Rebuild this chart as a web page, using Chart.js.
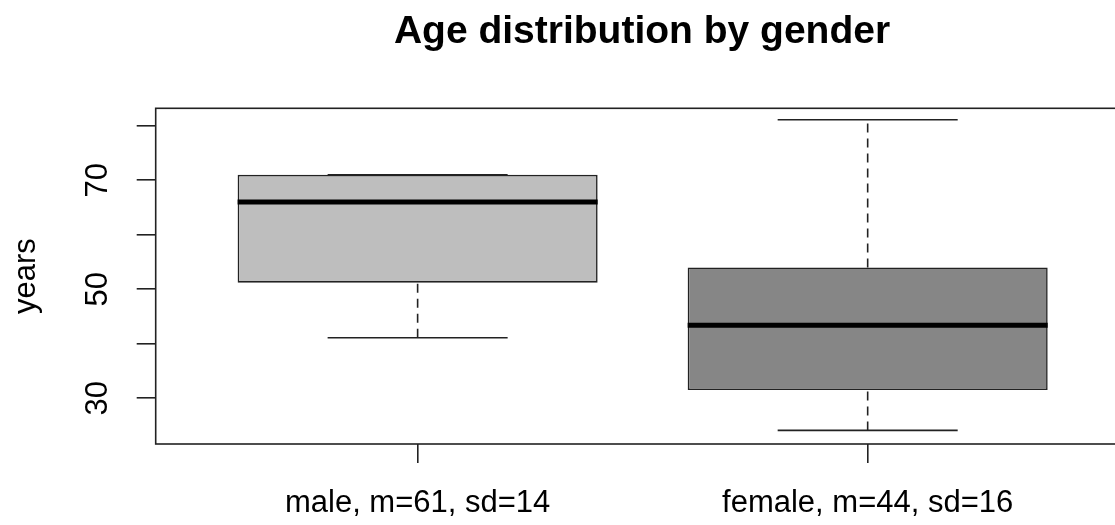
<!DOCTYPE html>
<html>
<head>
<meta charset="utf-8">
<script src="https://cdn.jsdelivr.net/npm/chart.js@4.4.1/dist/chart.umd.min.js"></script>
<style>
  html, body { margin: 0; padding: 0; background: #fff; overflow: hidden; }
  #wrap { width: 1284px; height: 525px; }
</style>
</head>
<body>
<div id="wrap"><canvas id="boxChart" width="1284" height="525"></canvas></div>
<script>
// Box plot data
const categories = ['male, m=61, sd=14', 'female, m=44, sd=16'];
const positions = [1, 2];
const whiskerLow = [41.1, 24.1];
const q1 = [51.2, 31.5];
const median = [66.0, 43.4];
const q3 = [71.0, 54.0];
const whiskerHigh = [71.0, 81.1];
const boxColors = ['#bebebe', '#868686'];

const yTicks = [30, 40, 50, 60, 70, 80];
const yTickLabels = ['30', '', '50', '', '70', ''];

const FONT = "'Liberation Sans', Arial, sans-serif";
const INK = '#222';

// segment helpers: null point breaks the line between segments
function segments(list) {
    const out = [];
    list.forEach(seg => {
        out.push(seg[0], seg[1], { x: seg[0].x, y: null });
    });
    return out;
}

const medianLines = segments(positions.map((p, i) => [
    { x: p - 0.4, y: median[i] }, { x: p + 0.4, y: median[i] }
]));

const whiskerCaps = segments(positions.flatMap((p, i) => [
    [{ x: p - 0.2, y: whiskerLow[i] }, { x: p + 0.2, y: whiskerLow[i] }],
    [{ x: p - 0.2, y: whiskerHigh[i] }, { x: p + 0.2, y: whiskerHigh[i] }]
]));

const whiskerStems = segments(positions.flatMap((p, i) => [
    [{ x: p, y: whiskerLow[i] }, { x: p, y: q1[i] }],
    [{ x: p, y: q3[i] }, { x: p, y: whiskerHigh[i] }]
]));

// frame around the plot region
const plotFrame = {
    id: 'plotFrame',
    afterDatasetsDraw(chart) {
        const a = chart.chartArea;
        const ctx = chart.ctx;
        ctx.save();
        ctx.strokeStyle = INK;
        ctx.lineWidth = 1.6;
        ctx.strokeRect(a.left, a.top, a.right - a.left, a.bottom - a.top);
        ctx.restore();
    }
};

const lineStyle = {
    type: 'line',
    borderColor: INK,
    pointRadius: 0,
    spanGaps: false,
    fill: false,
    tension: 0,
    borderCapStyle: 'butt'
};

new Chart(document.getElementById('boxChart'), {
    type: 'bar',
    data: {
        datasets: [
            {
                ...lineStyle,
                data: medianLines,
                borderColor: '#000',
                borderWidth: 5,
                order: 0
            },
            {
                ...lineStyle,
                data: whiskerCaps,
                borderWidth: 1.6,
                order: 1
            },
            {
                ...lineStyle,
                data: whiskerStems,
                borderWidth: 1.6,
                borderDash: [9, 6],
                order: 1
            },
            {
                type: 'bar',
                data: positions.map((p, i) => ({ x: p, y: [q1[i], q3[i]] })),
                backgroundColor: boxColors,
                borderColor: INK,
                borderWidth: 1.6,
                borderSkipped: false,
                barPercentage: 0.8,
                categoryPercentage: 1,
                order: 2
            }
        ]
    },
    options: {
        responsive: false,
        animation: false,
        devicePixelRatio: 1,
        layout: { padding: 0 },
        plugins: {
            legend: { display: false },
            tooltip: { enabled: false },
            title: {
                display: true,
                text: 'Age distribution by gender',
                color: '#000',
                font: { family: FONT, size: 39, weight: 'bold', lineHeight: 1.2 },
                padding: { top: 9, bottom: 52.5 }
            }
        },
        scales: {
            x: {
                type: 'linear',
                min: 0.418,
                max: 2.58,
                offset: false,
                afterBuildTicks: s => { s.ticks = positions.map(v => ({ value: v })); },
                afterFit: s => { s.height = 81; },
                grid: { offset: false, drawOnChartArea: false, drawTicks: true, tickLength: 19, color: INK, lineWidth: 1.6 },
                border: { display: false },
                ticks: {
                    color: '#000',
                    font: { family: FONT, size: 31 },
                    maxRotation: 0,
                    padding: 22,
                    callback: (v, i) => categories[i]
                }
            },
            y: {
                type: 'linear',
                min: 21.6,
                max: 83.2,
                afterBuildTicks: s => { s.ticks = yTicks.map(v => ({ value: v })); },
                afterFit: s => { s.width = 155.7; },
                grid: { drawOnChartArea: false, drawTicks: true, tickLength: 19, color: INK, lineWidth: 1.6 },
                border: { display: false },
                ticks: {
                    color: '#000',
                    font: { family: FONT, size: 31 },
                    minRotation: 90,
                    maxRotation: 90,
                    crossAlign: 'center',
                    padding: 21,
                    callback: (v, i) => yTickLabels[i]
                },
                title: {
                    display: true,
                    text: 'years',
                    color: '#000',
                    font: { family: FONT, size: 31, lineHeight: 1.2 },
                    padding: { top: 8, bottom: 0 }
                }
            },
            yRight: {
                type: 'linear',
                position: 'right',
                display: true,
                grid: { display: false },
                border: { display: false },
                ticks: { display: false },
                afterFit: s => { s.width = 155.3; }
            }
        }
    },
    plugins: [plotFrame]
});
</script>
</body>
</html>
